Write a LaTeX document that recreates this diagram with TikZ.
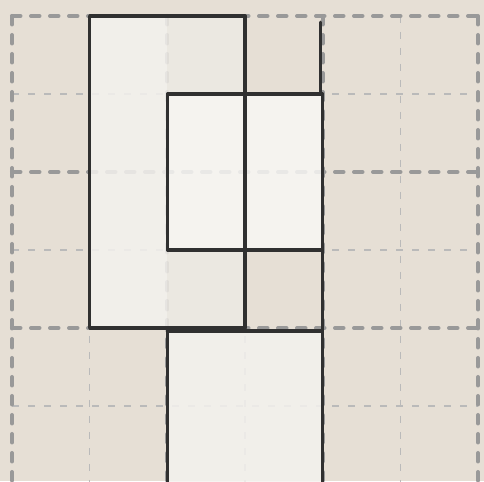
\documentclass[tikz,border=0pt]{standalone}
\usepackage{xcolor}
\definecolor{paper}{RGB}{230,223,213}
\definecolor{sheetA}{RGB}{244,242,238}
\definecolor{sheetB}{RGB}{237,234,228}
\definecolor{sheetC}{RGB}{248,247,244}
\definecolor{ink}{RGB}{48,48,48}

\begin{document}
\begin{tikzpicture}[
    x=77.67pt, y=-78pt,
    major/.style={draw=black!40, line width=4pt, dash pattern=on 8.5pt off 10.5pt,
                  line cap=round},
    minor/.style={draw=black!27, line width=1.6pt, dash pattern=on 7pt off 9pt},
    outline/.style={draw=ink, line width=3.3pt, line join=round, line cap=round},
    sheet/.style={fill=#1, fill opacity=0.85},
]
% Page and its margins.
\fill[paper] (-0.1545,-0.205) rectangle (6.077,5.962);
\useasboundingbox (-0.1545,-0.205) rectangle (6.077,5.962);

% Minor grid lines.
\foreach \k in {1,3,5} {
  \draw[minor] (\k,0) -- (\k,6);
  \draw[minor] (0,\k) -- (6,\k);
}
% Major grid lines, every second cell.
\foreach \k in {0,2,4,6} {
  \draw[major] (\k,0) -- (\k,6);
  \draw[major] (0,\k) -- (6,\k);
}

% Sheets over the grid.
\fill[sheet=sheetA] (1,0) rectangle (2,4);
\fill[sheet=sheetB] (2,0) rectangle (3,1);
\fill[sheet=sheetB] (2,3) rectangle (3,4);
\fill[sheet=sheetC] (2,1) rectangle (4,3);
\fill[sheet=sheetA] (2,4.04) rectangle (4,6.3);

% Outlines.
\draw[outline] (1,0) rectangle (3,4);
\draw[outline] (2,1) rectangle (4,3);
\draw[outline] (2,4.04) -- (4,4.04) -- (4,6.3);
\draw[outline] (2,4.04) -- (2,6.3);
\draw[outline] (3.97,0.08) -- (3.97,1);
\draw[outline] (4,3) -- (4,4.04);
\end{tikzpicture}
\end{document}
